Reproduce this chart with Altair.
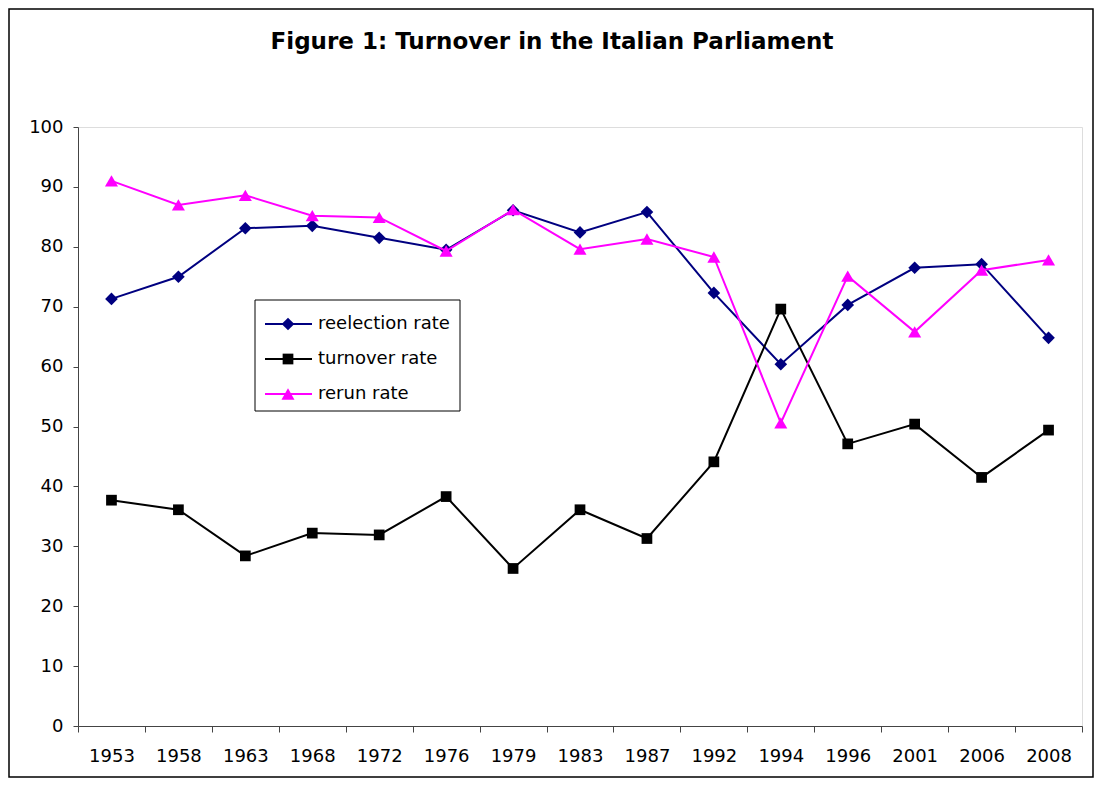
import altair as alt
import pandas as pd

years = ["1953", "1958", "1963", "1968", "1972", "1976", "1979", "1983",
         "1987", "1992", "1994", "1996", "2001", "2006", "2008"]
reelection = [71.3, 75.0, 83.1, 83.5, 81.5, 79.5, 86.1, 82.4, 85.8, 72.3, 60.4, 70.3, 76.5, 77.1, 64.8]
turnover = [37.7, 36.1, 28.4, 32.2, 31.9, 38.3, 26.3, 36.1, 31.3, 44.1, 69.6, 47.1, 50.4, 41.5, 49.4]
rerun = [91.0, 87.0, 88.6, 85.2, 84.9, 79.3, 86.2, 79.6, 81.3, 78.3, 50.6, 75.1, 65.8, 76.1, 77.8]

series_names = ["reelection rate", "turnover rate", "rerun rate"]
series_colors = ["#000080", "#000000", "#FF00FF"]
series_shapes = ["diamond", "square", "triangle-up"]
series_sizes = [160, 115, 170]
title_text = "Figure 1: Turnover in the Italian Parliament"

rows = []
for name, vals in zip(series_names, [reelection, turnover, rerun]):
    for yr, v in zip(years, vals):
        rows.append({"year": yr, "series": name, "value": v})
df = pd.DataFrame(rows)

W, H = 1004, 599
FONT = "DejaVu Sans"

x_enc = alt.X("year:N", sort=years,
              scale=alt.Scale(domain=years, paddingInner=0, paddingOuter=0),
              axis=alt.Axis(title=None, labelAngle=0, tickBand="extent",
                            tickSize=6, labelPadding=15, labelFont=FONT,
                            labelFontSize=18, labelColor="#000",
                            domainColor="#444", tickColor="#444",
                            labelFlush=False, labelOverlap=False))
y_enc = alt.Y("value:Q",
              scale=alt.Scale(domain=[0, 100], nice=False, zero=True),
              axis=alt.Axis(title=None, values=list(range(0, 101, 10)),
                            tickSize=5, labelPadding=10, labelFont=FONT,
                            labelFontSize=18, labelColor="#000",
                            domainColor="#444", tickColor="#444", grid=False))

layers = []
for name, col, shp, sz in zip(series_names, series_colors, series_shapes, series_sizes):
    sub = df[df["series"] == name]
    base = alt.Chart(sub).encode(x=x_enc, y=y_enc)
    layers.append(base.mark_line(color=col, strokeWidth=2))
    layers.append(base.mark_point(shape=shp, size=sz, filled=True, color=col, opacity=1))

# Title
title_df = pd.DataFrame({"t": [title_text]})
layers.append(alt.Chart(title_df).mark_text(font=FONT, fontSize=23, fontWeight="bold",
                                            color="#000", align="center", baseline="middle")
              .encode(text="t:N", x=alt.value(474), y=alt.value(-85)))

# Legend box
leg_df = pd.DataFrame({"a": [0]})
layers.append(alt.Chart(leg_df).mark_rect(fill="white", stroke="#000", strokeWidth=1)
              .encode(x=alt.value(177), x2=alt.value(382), y=alt.value(173), y2=alt.value(284)))
for i, (name, col, shp, sz) in enumerate(zip(series_names, series_colors, series_shapes, series_sizes)):
    yy = 197 + 35 * i
    ldf = pd.DataFrame({"series": [name]})
    layers.append(alt.Chart(ldf).mark_rule(color=col, strokeWidth=2)
                  .encode(x=alt.value(187), x2=alt.value(234), y=alt.value(yy)))
    layers.append(alt.Chart(ldf).mark_point(shape=shp, size=sz, filled=True, color=col, opacity=1)
                  .encode(x=alt.value(210), y=alt.value(yy)))
    layers.append(alt.Chart(ldf).mark_text(font=FONT, fontSize=18, color="#000",
                                           align="left", baseline="middle")
                  .encode(text="series:N", x=alt.value(240), y=alt.value(yy)))

# Outer frame
layers.append(alt.Chart(leg_df).mark_rect(fill=None, stroke="#000", strokeWidth=1.5)
              .encode(x=alt.value(-69), x2=alt.value(W + 11), y=alt.value(-118), y2=alt.value(H + 51)))

chart = alt.layer(*layers).properties(
    width=W, height=H,
    autosize=alt.AutoSizeParams(type="none"),
    padding={"left": 70, "top": 119, "right": 12, "bottom": 52},
).configure_view(stroke="transparent", strokeWidth=0).configure(background="white")

chart.save("out.html", embed_options={"renderer": "svg", "actions": False})
